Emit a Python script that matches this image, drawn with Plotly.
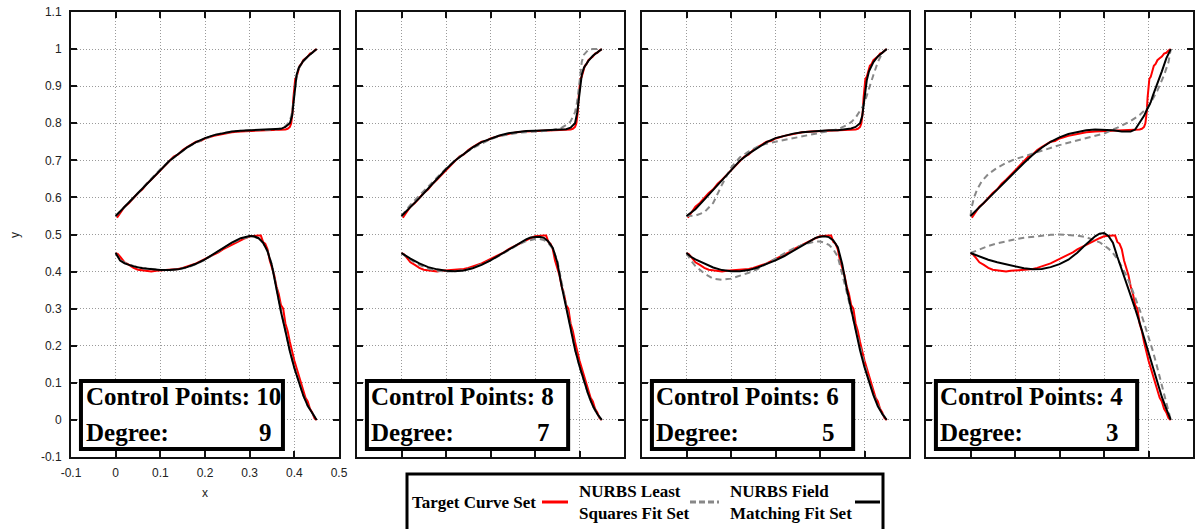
import plotly.graph_objects as go

W, H = 1195, 529

# ------------------------------------------------------------------ data
X_TICKS = [-0.1, 0, 0.1, 0.2, 0.3, 0.4, 0.5]
X_TICK_TEXT = ["-0.1", "0", "0.1", "0.2", "0.3", "0.4", "0.5"]
Y_TICKS = [-0.1, 0, 0.1, 0.2, 0.3, 0.4, 0.5, 0.6, 0.7, 0.8, 0.9, 1.0, 1.1]
Y_TICK_TEXT = ["-0.1", "0", "0.1", "0.2", "0.3", "0.4", "0.5", "0.6", "0.7",
               "0.8", "0.9", "1", "1.1"]

CONTROL_POINTS = [10, 8, 6, 4]
DEGREES = [9, 7, 5, 3]

LEGEND_NAMES = ["Target Curve Set", "NURBS Least<br>Squares Fit Set",
                "NURBS Field<br>Matching Fit Set"]

# target curve set (same in every panel)
target_upper_x = [0.003, 0.01, 0.02, 0.03, 0.04, 0.05, 0.06, 0.07, 0.08, 0.09, 0.1,
                  0.11, 0.12, 0.13, 0.14, 0.15, 0.16, 0.17, 0.18, 0.19, 0.2, 0.22,
                  0.24, 0.26, 0.28, 0.3, 0.32, 0.34, 0.36, 0.37, 0.38, 0.385, 0.39,
                  0.393, 0.396, 0.398, 0.4, 0.402, 0.405, 0.408, 0.412, 0.416,
                  0.42, 0.425, 0.43, 0.435, 0.44, 0.445, 0.45]
target_upper_y = [0.545, 0.556, 0.575, 0.585, 0.6, 0.612, 0.622, 0.637, 0.648, 0.66,
                  0.674, 0.685, 0.697, 0.71, 0.716, 0.728, 0.736, 0.742, 0.75, 0.752,
                  0.759, 0.766, 0.772, 0.776, 0.778, 0.779, 0.779, 0.78, 0.78, 0.781,
                  0.783, 0.785, 0.79, 0.8, 0.83, 0.87, 0.9, 0.92, 0.925, 0.94, 0.955,
                  0.96, 0.97, 0.975, 0.98, 0.988, 0.99, 0.996, 1.0]
target_lower_x = [0, 0.005, 0.01, 0.02, 0.03, 0.04, 0.05, 0.06, 0.07, 0.08, 0.09, 0.1,
                  0.11, 0.12, 0.13, 0.14, 0.15, 0.16, 0.17, 0.18, 0.19, 0.2, 0.21,
                  0.22, 0.23, 0.24, 0.25, 0.26, 0.27, 0.28, 0.29, 0.3, 0.31, 0.32,
                  0.325, 0.33, 0.335, 0.34, 0.345, 0.35, 0.355, 0.36, 0.365, 0.37,
                  0.375, 0.38, 0.385, 0.39, 0.395, 0.4, 0.405, 0.41, 0.415, 0.42,
                  0.425, 0.43, 0.435, 0.44, 0.445, 0.45]
target_lower_y = [0.45, 0.447, 0.44, 0.425, 0.418, 0.41, 0.405, 0.403, 0.401, 0.4,
                  0.402, 0.403, 0.403, 0.404, 0.405, 0.407, 0.41, 0.413, 0.418, 0.422,
                  0.428, 0.432, 0.44, 0.446, 0.452, 0.46, 0.466, 0.473, 0.48, 0.486,
                  0.49, 0.495, 0.497, 0.497, 0.497, 0.48, 0.475, 0.46, 0.43, 0.41,
                  0.39, 0.36, 0.34, 0.31, 0.3, 0.26, 0.24, 0.21, 0.18, 0.16, 0.14,
                  0.12, 0.1, 0.08, 0.06, 0.05, 0.03, 0.02, 0.005, 0.0]

# fitted curves: x samples
fit_upper_x = [0, 0.02, 0.04, 0.06, 0.08, 0.1, 0.12, 0.14, 0.16, 0.18, 0.2, 0.22,
               0.24, 0.26, 0.28, 0.3, 0.32, 0.34, 0.36, 0.37, 0.38, 0.39, 0.395,
               0.4, 0.405, 0.41, 0.42, 0.43, 0.44, 0.45]
fit_lower_x = [0, 0.01, 0.02, 0.04, 0.06, 0.08, 0.1, 0.12, 0.14, 0.16, 0.18, 0.2,
               0.22, 0.24, 0.26, 0.28, 0.29, 0.3, 0.31, 0.32, 0.33, 0.34, 0.35,
               0.36, 0.37, 0.38, 0.39, 0.4, 0.41, 0.42, 0.43, 0.44, 0.45]
lsq_upper_x_p4 = [0, 0.003, 0.008, 0.015, 0.025, 0.04, 0.06, 0.08, 0.1, 0.13, 0.16,
                  0.2, 0.25, 0.3, 0.33, 0.36, 0.38, 0.4, 0.42, 0.435, 0.445, 0.45]

# NURBS least squares fit set (grey dashed)
lsq_upper_p1 = [0.55, 0.574, 0.599, 0.625, 0.651, 0.676, 0.698, 0.717, 0.734, 0.748,
                0.759, 0.768, 0.774, 0.778, 0.78, 0.781, 0.781, 0.782, 0.783, 0.786,
                0.792, 0.805, 0.83, 0.88, 0.925, 0.948, 0.967, 0.98, 0.99, 1.0]
lsq_upper_p2 = [0.55, 0.58, 0.605, 0.63, 0.654, 0.678, 0.699, 0.718, 0.733, 0.746,
                0.757, 0.765, 0.77, 0.774, 0.776, 0.777, 0.779, 0.782, 0.788, 0.795,
                0.805, 0.83, 0.86, 0.91, 0.965, 0.985, 0.998, 1.0, 1.0, 1.0]
lsq_upper_p3 = [0.55, 0.551, 0.56, 0.585, 0.635, 0.68, 0.708, 0.724, 0.737, 0.745,
                0.75, 0.755, 0.759, 0.764, 0.769, 0.774, 0.779, 0.784, 0.795, 0.803,
                0.815, 0.832, 0.843, 0.855, 0.872, 0.893, 0.93, 0.965, 0.99, 1.0]
lsq_upper_p4 = [0.55, 0.575, 0.6, 0.622, 0.643, 0.663, 0.68, 0.693, 0.703, 0.714,
                0.726, 0.741, 0.757, 0.772, 0.788, 0.806, 0.822, 0.845, 0.888,
                0.93, 0.965, 1.0]
lsq_lower_p1 = [0.45, 0.432, 0.424, 0.415, 0.41, 0.406, 0.404, 0.404, 0.406, 0.411,
                0.42, 0.432, 0.447, 0.462, 0.477, 0.488, 0.492, 0.494, 0.494, 0.489,
                0.477, 0.455, 0.418, 0.352, 0.295, 0.242, 0.187, 0.142, 0.101, 0.067,
                0.038, 0.017, 0.0]
lsq_lower_p2 = [0.45, 0.44, 0.432, 0.418, 0.408, 0.402, 0.4, 0.401, 0.404, 0.41,
                0.419, 0.43, 0.443, 0.457, 0.471, 0.482, 0.486, 0.488, 0.488, 0.485,
                0.477, 0.462, 0.43, 0.37, 0.305, 0.245, 0.19, 0.145, 0.104, 0.067,
                0.037, 0.015, 0.0]
lsq_lower_p3 = [0.45, 0.43, 0.415, 0.395, 0.381, 0.378, 0.381, 0.388, 0.397, 0.407,
                0.42, 0.435, 0.449, 0.462, 0.472, 0.479, 0.481, 0.481, 0.478, 0.472,
                0.46, 0.44, 0.395, 0.345, 0.295, 0.245, 0.195, 0.15, 0.108, 0.07,
                0.04, 0.017, 0.0]
lsq_lower_p4 = [0.45, 0.455, 0.46, 0.469, 0.476, 0.482, 0.487, 0.491, 0.494, 0.497,
                0.499, 0.5, 0.499, 0.497, 0.493, 0.485, 0.479, 0.471, 0.462, 0.45,
                0.434, 0.413, 0.39, 0.362, 0.332, 0.298, 0.262, 0.225, 0.185, 0.14,
                0.094, 0.047, 0.0]

# NURBS field matching fit set (black)
fm_upper_p1 = [0.55, 0.575, 0.6, 0.625, 0.65, 0.675, 0.698, 0.717, 0.735, 0.749,
               0.76, 0.768, 0.774, 0.778, 0.78, 0.781, 0.781, 0.782, 0.783, 0.785,
               0.79, 0.8, 0.82, 0.88, 0.93, 0.95, 0.968, 0.98, 0.99, 1.0]
fm_upper_p2 = [0.55, 0.573, 0.598, 0.624, 0.65, 0.676, 0.699, 0.718, 0.735, 0.749,
               0.759, 0.767, 0.773, 0.777, 0.779, 0.78, 0.781, 0.781, 0.782, 0.784,
               0.788, 0.8, 0.83, 0.89, 0.93, 0.95, 0.968, 0.982, 0.992, 1.0]
fm_upper_p3 = [0.55, 0.568, 0.594, 0.62, 0.645, 0.672, 0.699, 0.718, 0.734, 0.749,
               0.76, 0.767, 0.772, 0.776, 0.778, 0.78, 0.781, 0.781, 0.783, 0.786,
               0.79, 0.8, 0.82, 0.862, 0.915, 0.94, 0.965, 0.98, 0.99, 1.0]
fm_upper_p4 = [0.55, 0.573, 0.596, 0.621, 0.645, 0.67, 0.693, 0.715, 0.734, 0.75,
               0.762, 0.771, 0.777, 0.781, 0.783, 0.783, 0.781, 0.778, 0.778, 0.783,
               0.8, 0.82, 0.833, 0.844, 0.857, 0.875, 0.905, 0.94, 0.975, 1.0]
fm_lower_p1 = [0.45, 0.43, 0.422, 0.414, 0.409, 0.406, 0.404, 0.404, 0.406, 0.412,
               0.421, 0.433, 0.448, 0.463, 0.478, 0.49, 0.494, 0.496, 0.495, 0.49,
               0.478, 0.455, 0.415, 0.348, 0.292, 0.24, 0.185, 0.14, 0.1, 0.066,
               0.038, 0.017, 0.0]
fm_lower_p2 = [0.45, 0.442, 0.435, 0.422, 0.412, 0.406, 0.402, 0.401, 0.403, 0.409,
               0.418, 0.43, 0.444, 0.459, 0.474, 0.487, 0.492, 0.494, 0.494, 0.491,
               0.481, 0.464, 0.425, 0.36, 0.3, 0.24, 0.19, 0.145, 0.105, 0.068,
               0.038, 0.016, 0.0]
fm_lower_p3 = [0.45, 0.44, 0.433, 0.421, 0.411, 0.404, 0.401, 0.401, 0.404, 0.411,
               0.42, 0.43, 0.442, 0.456, 0.471, 0.485, 0.491, 0.494, 0.495, 0.493,
               0.484, 0.466, 0.42, 0.355, 0.298, 0.24, 0.188, 0.142, 0.103, 0.067,
               0.037, 0.016, 0.0]
fm_lower_p4 = [0.45, 0.445, 0.44, 0.432, 0.425, 0.419, 0.413, 0.409, 0.406, 0.407,
               0.412, 0.42, 0.432, 0.451, 0.474, 0.495, 0.502, 0.504, 0.496, 0.478,
               0.44, 0.405, 0.375, 0.34, 0.3, 0.262, 0.222, 0.182, 0.14, 0.1, 0.062,
               0.03, 0.0]

lsq_upper_x = [fit_upper_x, fit_upper_x, fit_upper_x, lsq_upper_x_p4]
lsq_upper = [lsq_upper_p1, lsq_upper_p2, lsq_upper_p3, lsq_upper_p4]
lsq_lower = [lsq_lower_p1, lsq_lower_p2, lsq_lower_p3, lsq_lower_p4]
fm_upper = [fm_upper_p1, fm_upper_p2, fm_upper_p3, fm_upper_p4]
fm_lower = [fm_lower_p1, fm_lower_p2, fm_lower_p3, fm_lower_p4]

# ------------------------------------------------------------------ style
RED, GREY, BLACK = "#ff0000", "#888888", "#000000"
PANEL_PX = [(71, 339), (357, 624), (642, 909), (926, 1193)]
Y_PX = (12, 457)
SERIF = "Liberation Serif"
SANS = "Liberation Sans"

fig = go.Figure()


def ax_suffix(i):
    return "" if i == 0 else str(i + 1)


for i in range(4):
    s = ax_suffix(i)
    xr, yr = "x" + s, "y" + s
    common = dict(xaxis=xr, yaxis=yr, mode="lines", showlegend=False,
                  hoverinfo="skip")
    fig.add_trace(go.Scatter(x=target_upper_x, y=target_upper_y,
                             line=dict(color=RED, width=2), **common))
    fig.add_trace(go.Scatter(x=target_lower_x, y=target_lower_y,
                             line=dict(color=RED, width=2), **common))
    fig.add_trace(go.Scatter(x=lsq_upper_x[i], y=lsq_upper[i],
                             line=dict(color=GREY, width=2, dash="6px,4px"),
                             **common))
    fig.add_trace(go.Scatter(x=fit_lower_x, y=lsq_lower[i],
                             line=dict(color=GREY, width=2, dash="6px,4px"),
                             **common))
    fig.add_trace(go.Scatter(x=fit_upper_x, y=fm_upper[i],
                             line=dict(color=BLACK, width=2), **common))
    fig.add_trace(go.Scatter(x=fit_lower_x, y=fm_lower[i],
                             line=dict(color=BLACK, width=2), **common))

layout = dict(
    width=W, height=H, margin=dict(l=0, r=0, t=0, b=0),
    paper_bgcolor="white", plot_bgcolor="white", template="none",
    showlegend=False, shapes=[], annotations=[],
)

tickfont = dict(family=SANS, size=12, color="#222222")
for i, (px0, px1) in enumerate(PANEL_PX):
    s = ax_suffix(i)
    axis_common = dict(
        ticks="inside", ticklen=6, tickwidth=1.5, tickcolor="#111111",
        showline=True, linecolor="#111111", linewidth=2, mirror="ticks",
        showgrid=True, gridcolor="#9a9a9a", gridwidth=1, griddash="1px,2px",
        zeroline=False, automargin=False, fixedrange=True, tickfont=tickfont,
    )
    layout["xaxis" + s] = dict(
        domain=[px0 / W, px1 / W], range=[-0.1, 0.5],
        tickmode="array", tickvals=X_TICKS, ticktext=X_TICK_TEXT,
        showticklabels=(i == 0), anchor="y" + s, ticklabelstandoff=4,
        **axis_common)
    layout["yaxis" + s] = dict(
        domain=[1 - Y_PX[1] / H, 1 - Y_PX[0] / H], range=[-0.1, 1.1],
        tickmode="array", tickvals=Y_TICKS, ticktext=Y_TICK_TEXT,
        showticklabels=(i == 0), anchor="x" + s, ticklabelstandoff=5,
        **axis_common)

    xr, yr = "x" + s, "y" + s
    # info box
    layout["shapes"].append(dict(
        type="rect", xref=xr, yref=yr, x0=-0.0777, x1=0.3745, y0=-0.0785,
        y1=0.105, line=dict(color="black", width=4), fillcolor="white",
        layer="above"))
    boxfont = dict(family=SERIF, size=25, color="black")
    layout["annotations"].append(dict(
        xref=xr, yref=yr, x=-0.072, y=0.062, xanchor="left", yanchor="middle",
        text="<b>Control Points: %d</b>" % CONTROL_POINTS[i], showarrow=False,
        font=boxfont))
    layout["annotations"].append(dict(
        xref=xr, yref=yr, x=-0.072, y=-0.033, xanchor="left", yanchor="middle",
        text="<b>Degree:</b>", showarrow=False, font=boxfont))
    num_right = 0.354 if DEGREES[i] >= 10 or CONTROL_POINTS[i] >= 10 else 0.338
    layout["annotations"].append(dict(
        xref=xr, yref=yr, x=num_right, y=-0.033, xanchor="right",
        yanchor="middle", text="<b>%d</b>" % DEGREES[i], showarrow=False,
        font=boxfont))

# axis titles
labfont = dict(family=SANS, size=12, color="#222222")
layout["annotations"].append(dict(
    xref="paper", yref="paper", x=205 / W, y=1 - 493 / H, text="x",
    showarrow=False, font=labfont, xanchor="center", yanchor="middle"))
layout["annotations"].append(dict(
    xref="paper", yref="paper", x=15 / W, y=1 - 235 / H, text="y",
    showarrow=False, font=labfont, textangle=-90, xanchor="center",
    yanchor="middle"))

# legend box
layout["shapes"].append(dict(
    type="rect", xref="paper", yref="paper", x0=407 / W, x1=883 / W,
    y0=1 - 540 / H, y1=1 - 474 / H, line=dict(color="black", width=3),
    fillcolor="white", layer="above"))
legfont = dict(family=SERIF, size=17, color="black")
leg_items = [
    (LEGEND_NAMES[0], 410, (542, 568), dict(color=RED, width=3)),
    (LEGEND_NAMES[1], 577, (690, 719), dict(color=GREY, width=3, dash="6px,3px")),
    (LEGEND_NAMES[2], 728, (855, 880), dict(color=BLACK, width=3)),
]
for name, tx, (lx0, lx1), lstyle in leg_items:
    layout["annotations"].append(dict(
        xref="paper", yref="paper", x=tx / W, y=1 - 502 / H, xanchor="left",
        yanchor="middle", align="left", text="<b>%s</b>" % name,
        showarrow=False, font=legfont))
    layout["shapes"].append(dict(
        type="line", xref="paper", yref="paper", x0=lx0 / W, x1=lx1 / W,
        y0=1 - 502 / H, y1=1 - 502 / H, line=lstyle, layer="above"))

fig.update_layout(**layout)
fig.write_html("out.html")
